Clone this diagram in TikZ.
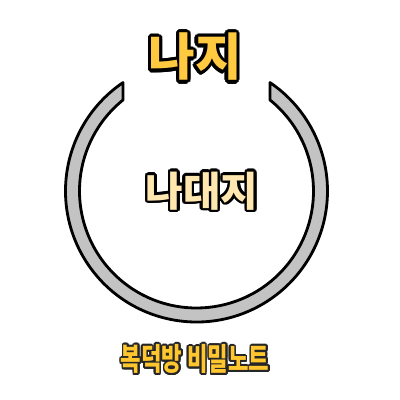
\documentclass[tikz,border=0pt]{standalone}
\usepackage{fontspec}
\newfontfamily\krfont{Noto Sans CJK KR Black}
\usepackage{xcolor}
\usetikzlibrary{positioning}
\definecolor{titleyellow}{HTML}{FFC940}
\definecolor{paleyellow}{HTML}{FFE7AF}
\definecolor{noteyellow}{HTML}{FFC62E}
\definecolor{ringgray}{HTML}{C3C3C3}
\tikzset{
    ringband/.style={draw=black, line width=2pt, fill=ringgray, line join=round}, % the open ring
    bigword/.style={font=\krfont\fontsize{36}{36}\selectfont, inner sep=0pt},
    midword/.style={font=\krfont\fontsize{29}{29}\selectfont, inner sep=0pt},
    notetext/.style={font=\krfont\fontsize{22}{22}\selectfont, inner sep=0pt, xscale=0.72},
}

\begin{document}
\begin{tikzpicture}[x=0.025cm, y=-0.025cm]
    \useasboundingbox (0,0) rectangle (400,400);
    \coordinate (ctr) at (196.5,191);
    % ring with a gap at the top
    \draw[ringband] ([shift={(235.9:131)}]ctr)
        arc[start angle=235.9, end angle=-55.9, radius=131]
        -- ([shift={(-51.1:117)}]ctr)
        arc[start angle=-51.1, end angle=231.1, radius=117]
        -- cycle;
    % outlined words
    \coordinate (topc) at (195,57);
    \coordinate (midc) at (202,191);
    \coordinate (botc) at (195,359);
    \foreach \a in {0,20,...,340} {
        \node[bigword, text=black] (top-\a) at ([shift={(\a:2.2pt)}]topc) {나지};
        \node[midword, text=black] (mid-\a) at ([shift={(\a:1.8pt)}]midc) {나대지};
        \node[notetext, text=black!85] (bot-\a) at ([shift={(\a:1.2pt)}]botc) {복덕방 비밀노트};
    }
    \node[bigword, text=titleyellow] (top) at (topc) {나지};
    \node[midword, text=paleyellow] (mid) at (midc) {나대지};
    \node[notetext, text=noteyellow] (bot) at (botc) {복덕방 비밀노트};
\end{tikzpicture}
\end{document}
